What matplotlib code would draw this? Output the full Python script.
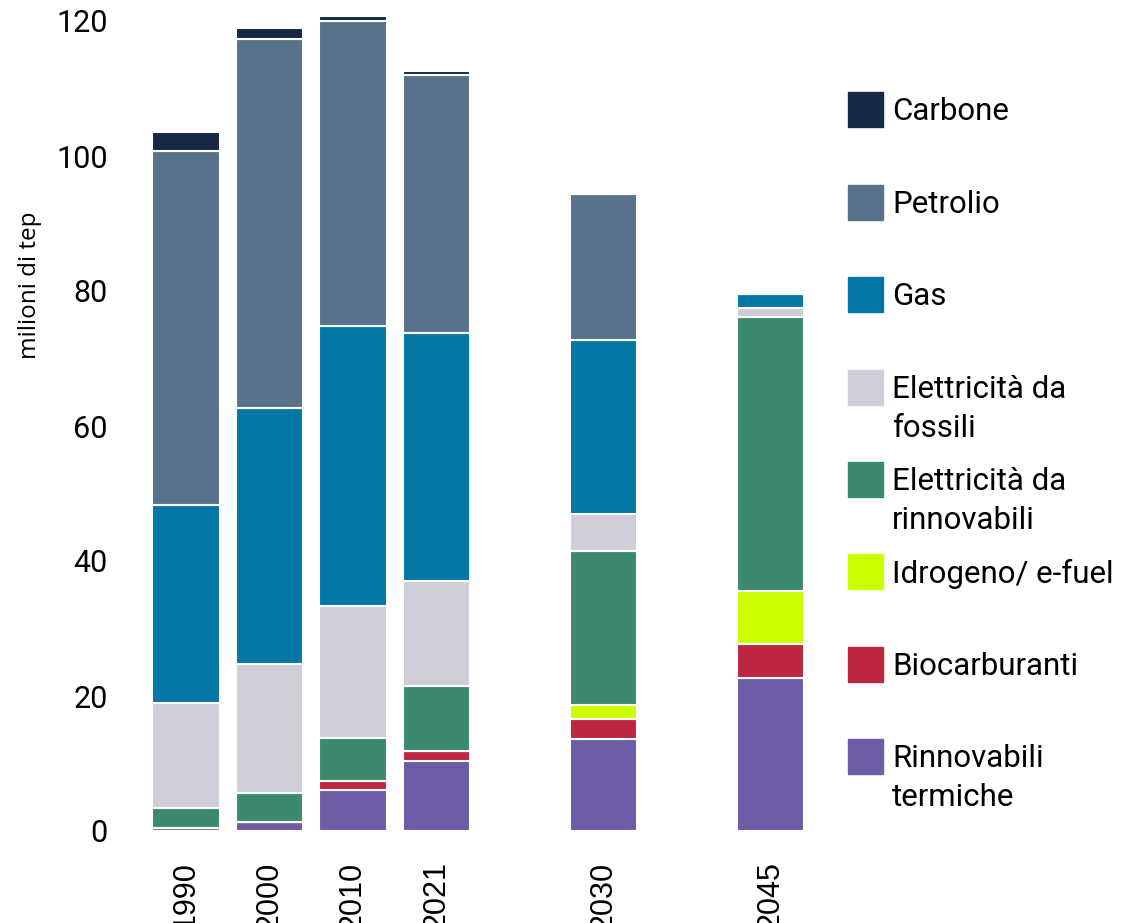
import matplotlib.pyplot as plt
import numpy as np
from matplotlib.patches import Rectangle

# anni e posizioni sull'asse (spazio vuoto prima degli scenari)
years = ["1990", "2000", "2010", "2021", "2030", "2045"]
xpos = [0, 1, 2, 3, 5, 7]

labels = ["Carbone", "Petrolio", "Gas", "Elettricità da\nfossili",
          "Elettricità da\nrinnovabili", "Idrogeno/ e-fuel",
          "Biocarburanti", "Rinnovabili\ntermiche"]
colors = ["#152945", "#58728d", "#0477a6", "#cecdd8",
          "#3b8a6e", "#ccff00", "#be2641", "#6c5da5"]

# milioni di tep, dal basso verso l'alto
termiche = [0.5, 1.4, 6.1, 10.4, 13.6, 22.6]
biocarb = [0.0, 0.0, 1.35, 1.45, 3.0, 5.1]
idrogeno = [0.0, 0.0, 0.0, 0.0, 2.0, 7.9]
el_rinn = [2.9, 4.3, 6.4, 9.7, 22.9, 40.5]
el_foss = [15.5, 19.1, 19.5, 15.5, 5.5, 1.4]
gas = [29.4, 37.8, 41.4, 36.8, 25.7, 2.0]
petrolio = [52.5, 54.7, 45.2, 38.1, 21.6, 0.0]
carbone = [2.8, 1.6, 0.8, 0.6, 0.2, 0.0]

series = [termiche, biocarb, idrogeno, el_rinn, el_foss, gas, petrolio, carbone]
ser_colors = colors[::-1]

fig = plt.figure(figsize=(11.22, 9.23), dpi=100)
ax = fig.add_axes([130/1122, 92/923, 700/1122, 122*6.75/923])

bottom = np.zeros(len(xpos))
for vals, col in zip(series, ser_colors):
    ax.bar(xpos, vals, 0.81, bottom=bottom, color=col, edgecolor="white", linewidth=1.5)
    bottom += np.array(vals)

ax.set_xlim(-56/83.5, 644/83.5)
ax.set_ylim(0, 122)
ax.set_yticks([0, 20, 40, 60, 80, 100, 120])
ax.set_yticklabels(["0", "20", "40", "60", "80", "100", "120"], family="Roboto", fontsize=22)
ax.set_xticks(xpos)
ax.set_xticklabels(years, rotation=90, family="Liberation Sans", fontsize=22, va="top")
ax.tick_params(axis="y", length=0, pad=16)
ax.tick_params(axis="x", length=0, pad=22)
for s in ax.spines.values():
    s.set_visible(False)

fig.text(30/1122, 1 - 285/923, "milioni di tep", rotation=90, family="Open Sans",
         fontsize=17.5, ha="center", va="center")

# legenda disegnata a mano: quadrati allineati al testo in alto
for i, (lab, col) in enumerate(zip(labels, colors)):
    top = 92.3 + i*92.4
    fig.patches.append(Rectangle((848/1122, 1 - (top + 35)/923), 35/1122, 35/923,
                                 color=col, transform=fig.transFigure))
    fig.text(892/1122, 1 - (top + 5)/923, lab, family="Roboto", fontsize=22.5,
             ha="left", va="top", linespacing=1.45)

fig.savefig("out.png", dpi=100)
